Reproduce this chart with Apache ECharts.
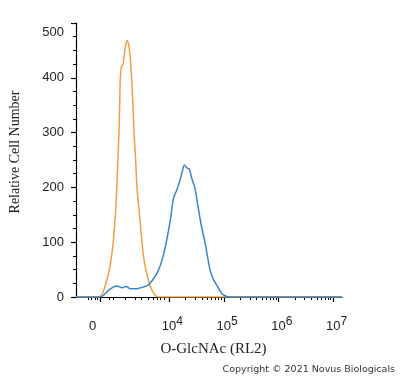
<!DOCTYPE html>
<html>
<head>
<meta charset="utf-8">
<script src="https://cdn.jsdelivr.net/npm/echarts@6/dist/echarts.min.js"></script>
<style>html,body{margin:0;padding:0;background:#fff}#c{width:400px;height:378px}</style>
</head>
<body>
<div id="c"></div>
<script>
// x values are in display (biexponential) units: 4 = 10^4, 5 = 10^5 ...
var isotypeX = [2.30,2.70,2.75,2.80,2.86,2.91,2.95,2.98,3.02,3.045,3.07,3.085,3.10,3.11,3.13,3.16,3.18,3.20,3.23,3.25,3.27,3.29,3.31,3.34,3.36,3.39,3.414,3.46,3.505,3.54,3.577,3.64,3.70,3.76,3.80,7.16];
var isotypeY = [0,0,2,10,30,50,75,100,150,200,260,300,360,400,420,425,440,455,468,465,455,440,410,350,300,250,200,150,100,70,50,25,10,2,0,0];
var stainedX = [2.30,2.748,2.80,2.89,2.98,3.05,3.14,3.22,3.29,3.40,3.52,3.61,3.70,3.79,3.88,3.95,4.03,4.08,4.14,4.19,4.24,4.28,4.32,4.37,4.42,4.47,4.53,4.59,4.66,4.75,4.82,4.87,4.96,5.05,5.11,7.16];
var stainedY = [0,0,3,12,18,20,17,19,15,15,18,21,31,45,70,100,145,180,195,210,228,241,236,233,215,200,165,130,98,49,30,22,7,1,0,0];
var xMajorTicks = [2.748,4,5,6,7];
var xMinorTicks = [2.532,2.586,2.658,2.694,2.910,2.982,3.198,3.378,3.486,3.613,3.703,3.793,3.847,3.919];
var xLabelValues = [2.604,4,5,6,7];
var yTicks = [0,100,200,300,400,500];

for (var d = 4; d <= 6; d++) {
  for (var k = 2; k <= 9; k++) xMinorTicks.push(d + Math.log10(k));
}
function pairs(xs, ys){ return xs.map(function(x,i){ return [x, ys[i]]; }); }

var chart = echarts.init(document.getElementById('c'));
var xMin = 2.30, xMax = 7.16;
chart.setOption({
  animation: false,
  backgroundColor: '#fff',
  grid: {left: 71, right: 58, top: 23, bottom: 81},
  xAxis: [{
    type: 'value', min: xMin, max: xMax, position: 'bottom',
    name: 'O-GlcNAc (RL2)', nameLocation: 'middle', nameGap: 45,
    nameTextStyle: {fontFamily: 'Liberation Serif', fontSize: 15, color: '#222', padding: [0,0,0,9]},
    axisLine: {show: true, onZero: false, lineStyle: {color: '#000', width: 1.2}},
    axisTick: {show: true, length: 5, customValues: xMajorTicks, lineStyle: {color: '#000', width: 1.2}},
    axisLabel: {
      show: true, margin: 19, customValues: xLabelValues,
      fontFamily: 'Liberation Sans', fontSize: 13, color: '#222',
      formatter: function(v){
        if (v < 3) return '{h|0}0{h|0}';
        var e = String(Math.round(v));
        return '{h|' + e + '}10{s|' + e + '}';
      },
      rich: {
        h: {fontFamily: 'Liberation Sans', fontSize: 12, color: 'rgba(0,0,0,0)', verticalAlign: 'bottom', padding: [0,0,8,0]},
        s: {fontFamily: 'Liberation Sans', fontSize: 12, color: '#222', verticalAlign: 'bottom', padding: [0,0,8,0]}
      }
    },
    splitLine: {show: false}
  }, {
    type: 'value', min: xMin, max: xMax, position: 'bottom', offset: 0,
    axisLine: {show: false},
    axisTick: {show: true, length: 3, customValues: xMinorTicks, lineStyle: {color: '#000', width: 1}},
    axisLabel: {show: false},
    splitLine: {show: false}
  }],
  yAxis: {
    type: 'value', min: 0, max: 500, interval: 100,
    name: 'Relative Cell Number', nameLocation: 'middle', nameGap: 54, nameRotate: 90,
    nameTextStyle: {fontFamily: 'Liberation Serif', fontSize: 14, color: '#222', padding: [0,0,0,16]},
    axisLine: {show: true, lineStyle: {color: '#000', width: 1.2}},
    axisTick: {show: true, length: 5, lineStyle: {color: '#000', width: 1.2}},
    minorTick: {show: true, splitNumber: 4, length: 3, lineStyle: {color: '#000', width: 1}},
    axisLabel: {
      margin: 12, fontFamily: 'Liberation Sans', fontSize: 13, color: '#222',
      formatter: function(v){ return v === 500 ? '{t|500}' : String(v); },
      rich: {t: {fontFamily: 'Liberation Sans', fontSize: 13, color: '#222', padding: [18,0,0,0]}}
    },
    splitLine: {show: false}
  },
  series: [{
    name: 'Isotype', type: 'line', xAxisIndex: 0, data: pairs(isotypeX, isotypeY),
    showSymbol: false, smooth: 0.3, lineStyle: {color: '#F0A044', width: 1.5}, z: 2
  }, {
    name: 'O-GlcNAc', type: 'line', xAxisIndex: 0, data: pairs(stainedX, stainedY),
    showSymbol: false, smooth: 0.3, lineStyle: {color: '#3B84C6', width: 1.5}, z: 3
  }],
  graphic: [{
    type: 'text', right: 5, top: 365,
    style: {text: 'Copyright \u00a9 2021 Novus Biologicals', font: '9.5px "DejaVu Sans"', fill: '#333'}
  }]
});
</script>
</body>
</html>
